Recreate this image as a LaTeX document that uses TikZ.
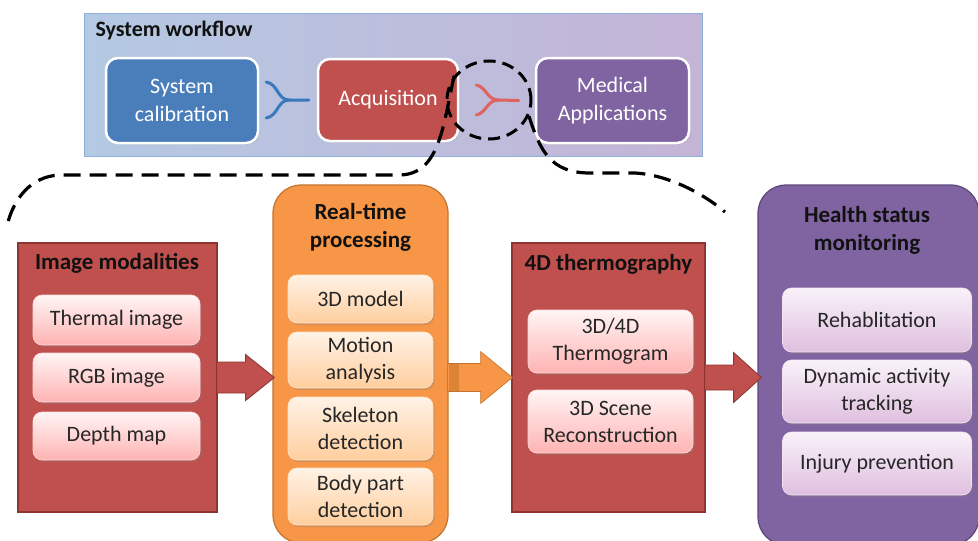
\documentclass[tikz,border=0pt]{standalone}
\usepackage{fontspec}
\setmainfont{Carlito}
\usetikzlibrary{calc,shapes.geometric,shadows}
\definecolor{redbox}{HTML}{C0504D}
\definecolor{redline}{HTML}{8E3532}
\definecolor{orbox}{HTML}{F79646}
\definecolor{orline}{HTML}{C4732F}
\definecolor{orshadow}{HTML}{DC8436}
\definecolor{pubox}{HTML}{8064A2}
\definecolor{puline}{HTML}{5D4779}
\definecolor{blbox}{HTML}{4A7EBB}
\definecolor{blcon}{HTML}{3A78BC}
\definecolor{rdcon}{HTML}{E0625E}
\definecolor{txt}{HTML}{262626}
\definecolor{ttl}{HTML}{111111}
\definecolor{panL}{HTML}{B4C9E3}
\definecolor{panM}{HTML}{E9ABAD}
\definecolor{panR}{HTML}{C4B4D6}
\definecolor{panB}{HTML}{8FB0D8}
\newcommand{\fatarrow}[6]{%
  \filldraw[#1] ($(#2)+(-1,-#5)$) -- ($(#2)+(#4,-#5)$) -- ($(#2)+(#4,-#6)$) -- (#3)
   -- ($(#2)+(#4,#6)$) -- ($(#2)+(#4,#5)$) -- ($(#2)+(-1,#5)$) -- cycle;}
\tikzset{
  big/.style={font=\fontsize{22}{27}\selectfont},
  topbox/.style={big, rounded corners=12pt, draw=white, line width=2.5pt, text=white,
     align=center, inner sep=0pt, drop shadow={shadow xshift=1.5pt, shadow yshift=-1.5pt, opacity=0.25}},
  outerrect/.style={draw=redline, fill=redbox, line width=1.2pt, inner sep=0pt},
  outerround/.style={rounded corners=28pt, line width=1.2pt, inner sep=0pt},
  titletext/.style={big, font=\fontsize{23}{28}\selectfont\bfseries, text=ttl, align=center},
  innerbox/.style={big, rounded corners=9pt, align=center, text=txt, inner sep=0pt, line width=0.6pt,
     drop shadow={shadow xshift=1.5pt, shadow yshift=-2pt, opacity=0.3}},
  redin/.style={innerbox, top color=red!4!white, bottom color=red!30!white, draw=red!15!white},
  orin/.style={innerbox, top color=orange!10!white, bottom color=orange!38!white, draw=orange!20!white},
  puin/.style={innerbox, top color=violet!5!white, bottom color=violet!25!white, draw=violet!10!white},
  conn/.style={line width=3pt, line cap=round},
  zoomdash/.style={draw=black, line width=3.2pt, dash pattern=on 17pt off 9pt},
}
\begin{document}
\begin{tikzpicture}[x=1pt,y=-1pt]
\useasboundingbox (0,0) rectangle (978,541);
\clip (0,0) rectangle (978,541);
\fill[white] (0,0) rectangle (978,541);

% ---------- top panel ----------
\node[minimum width=618pt, minimum height=143pt, inner sep=0pt, left color=panL, middle color=panM, right color=panR, draw=panB, line width=0.8pt] (panel) at (393,84.5) {};
\node[anchor=west, font=\fontsize{22}{25}\selectfont\bfseries, text=ttl] (ptitle) at (92,31) {System workflow};
\node[topbox, fill=blbox, minimum width=152pt, minimum height=85pt, font=\fontsize{22}{28}\selectfont] (calib) at (182,100.5) {System\\calibration};
\node[topbox, fill=redbox, minimum width=140pt, minimum height=82pt] (acq) at (388,100) {Acquisition};
\node[topbox, fill=pubox, minimum width=153pt, minimum height=85pt, font=\fontsize{22}{28}\selectfont] (med) at (612.5,100.5) {Medical\\Applications};

% merge connectors
\draw[conn, blcon] ($(calib.east)+(7,-18.5)$) .. controls +(12,2) and +(-12,0) .. ($(calib.east)+(30,-0.5)$) -- ($(acq.west)+(-8,0)$);
\draw[conn, blcon] ($(calib.east)+(7,17.5)$) .. controls +(12,-2) and +(-12,0) .. ($(calib.east)+(30,-0.5)$);
\draw[conn, rdcon] ($(acq.east)+(17,-15)$) .. controls +(10,2) and +(-11,0) .. ($(acq.east)+(39,0)$) -- ($(med.west)+(-16,0)$);
\draw[conn, rdcon] ($(acq.east)+(17,15)$) .. controls +(10,-2) and +(-11,0) .. ($(acq.east)+(39,0)$);

% zoom circle and lines
\node[ellipse, draw=black, line width=3pt, dash pattern=on 12pt off 7pt, minimum width=84pt, minimum height=78pt, inner sep=0pt] (zoomc) at (489,100) {};
\coordinate (lend) at (8,222);
\coordinate (rend) at (725,212);
\draw[zoomdash] (zoomc.145) .. controls (443,125) and (440,174) .. (400,175) -- (60,175) .. controls (30,176) and (14,200) .. (lend);
\draw[zoomdash] (zoomc.-22) .. controls (540,150) and (550,173) .. (590,173) -- (635,173) .. controls (670,175) and (705,195) .. (rend);

% ---------- bottom boxes ----------
\node[outerrect, minimum width=199pt, minimum height=269pt] (im) at (117.5,377.5) {};
\node[titletext] (imt) at (117,263) {Image modalities};
\node[redin, minimum width=167pt, minimum height=50pt] (im1) at (116.5,320) {Thermal image};
\node[redin, minimum width=167pt, minimum height=49pt] (im2) at (116.5,377.5) {RGB image};
\node[redin, minimum width=167pt, minimum height=48pt] (im3) at (116.5,436) {Depth map};

\node[outerround, fill=orbox, draw=orline, minimum width=175pt, minimum height=358pt] (rt) at (360.5,364) {};
\node[titletext] (rtt) at (360.5,227) {Real-time\\processing};
\node[orin, minimum width=145pt, minimum height=48pt] (rt1) at (360.5,299) {3D model};
\node[orin, minimum width=145pt, minimum height=56pt] (rt2) at (360.5,360) {Motion\\analysis};
\node[orin, minimum width=145pt, minimum height=63pt] (rt3) at (360.5,428.5) {Skeleton\\detection};
\node[orin, minimum width=145pt, minimum height=57pt] (rt4) at (360.5,496.5) {Body part\\detection};

\node[outerrect, minimum width=193pt, minimum height=269pt] (t4) at (608.5,377.5) {};
\node[titletext] (t4t) at (608.5,264) {4D thermography};
\node[redin, minimum width=165pt, minimum height=63pt] (t41) at (610.5,341.5) {3D/4D\\Thermogram};
\node[redin, minimum width=165pt, minimum height=63pt] (t42) at (610.5,421.5) {3D Scene\\Reconstruction};

\node[outerround, fill=pubox, draw=puline, minimum width=221pt, minimum height=360pt] (hs) at (868.5,365) {};
\node[titletext] (hst) at (867,230) {Health status\\monitoring};
\node[puin, minimum width=189pt, minimum height=64pt] (hs1) at (877,320) {Rehablitation};
\node[puin, minimum width=189pt, minimum height=63pt] (hs2) at (877,391.5) {Dynamic activity\\tracking};
\node[puin, minimum width=189pt, minimum height=63pt] (hs3) at (877,463.5) {Injury prevention};

% ---------- fat arrows ----------
\coordinate (a1s) at (im.east);
\coordinate (a1t) at ($(im.east -| rt.west)+(2,0)$);
\fatarrow{fill=redbox, draw=redline, line width=0.8pt}{a1s}{a1t}{28}{15.5}{23}
\coordinate (a2s) at (t4.west -| rt.east);
\coordinate (a2t) at ($(t4.west)+(1,0)$);
\fatarrow{fill=orbox, draw=orline, line width=0.6pt}{a2s}{a2t}{32}{14}{26}
\fill[orshadow] ($(a2s)+(0.5,-13.5)$) rectangle ($(a2s)+(10,13.5)$);
\coordinate (a3s) at (t4.east);
\coordinate (a3t) at ($(t4.east -| hs.west)+(4,0)$);
\fatarrow{fill=redbox, draw=redline, line width=0.8pt}{a3s}{a3t}{28}{12.5}{25}
\end{tikzpicture}
\end{document}
